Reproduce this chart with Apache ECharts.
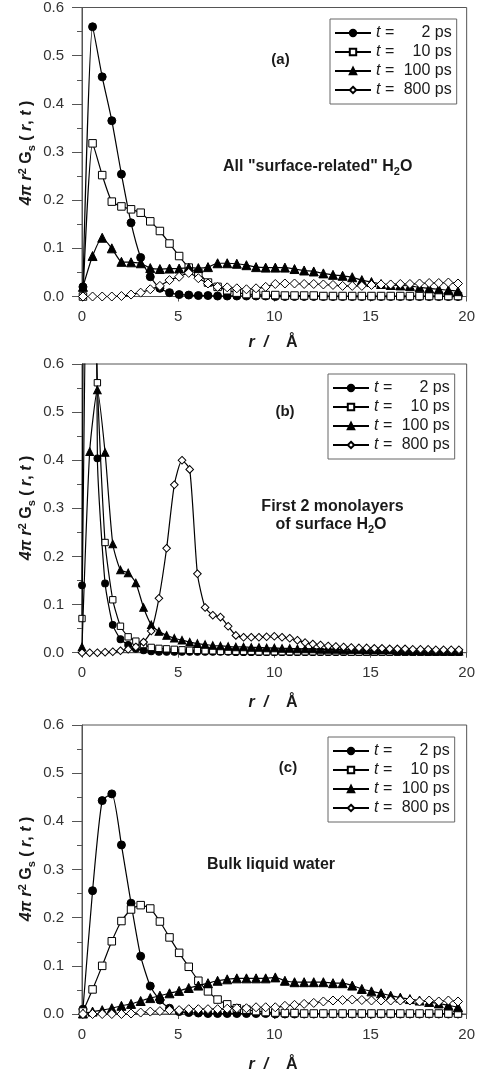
<!DOCTYPE html>
<html><head><meta charset="utf-8">
<script src="https://cdn.jsdelivr.net/npm/echarts@6/dist/echarts.min.js"></script>
<style>html,body{margin:0;padding:0;background:#fff}#c{width:478px;height:1078px}</style>
</head><body><div id="c"></div>
<script>
// r grid (Angstrom) for panels (a) and (c)
const rAC = [0.05,0.55,1.05,1.55,2.05,2.55,3.05,3.55,4.05,4.55,5.05,5.55,6.05,6.55,7.05,7.55,8.05,8.55,9.05,9.55,
  10.05,10.55,11.05,11.55,12.05,12.55,13.05,13.55,14.05,14.55,15.05,15.55,16.05,16.55,17.05,17.55,18.05,18.55,19.05,19.55];
// r grid for panel (b)
const rB = [0,0.4,0.8,1.2,1.6,2.0,2.4,2.8,3.2,3.6,4.0,4.4,4.8,5.2,5.6,6.0,6.4,6.8,7.2,7.6,
  8.0,8.4,8.8,9.2,9.6,10.0,10.4,10.8,11.2,11.6,12.0,12.4,12.8,13.2,13.6,14.0,14.4,14.8,15.2,15.6,
  16.0,16.4,16.8,17.2,17.6,18.0,18.4,18.8,19.2,19.6];

// panel (a): all "surface-related" H2O
const a2   = [0.02,0.56,0.456,0.365,0.254,0.153,0.081,0.041,0.017,0.008,0.004,0.003,0.002,0.002,0.001,0.001,0.001,0.001,0.001,0.001,
  0,0,0,0,0,0,0,0,0,0,0,0,0,0,0,0,0,0,0,0];
const a10  = [0.0,0.318,0.252,0.197,0.187,0.181,0.174,0.156,0.136,0.11,0.084,0.06,0.049,0.029,0.02,0.013,0.008,0.005,0.004,0.003,
  0.003,0.002,0.002,0.002,0.002,0.001,0.001,0.001,0.001,0.001,0.001,0.001,0.001,0.001,0.001,0.001,0.001,0.001,0.001,0.001];
const a100 = [0.02,0.084,0.122,0.10,0.072,0.071,0.069,0.059,0.057,0.058,0.058,0.060,0.059,0.061,0.069,0.069,0.068,0.065,0.061,0.060,
  0.060,0.060,0.057,0.054,0.052,0.048,0.045,0.043,0.040,0.034,0.030,0.026,0.024,0.023,0.022,0.019,0.017,0.015,0.013,0.011];
const a800 = [0,0,0,0,0.001,0.004,0.008,0.015,0.022,0.034,0.041,0.049,0.038,0.027,0.020,0.019,0.017,0.015,0.017,0.020,
  0.026,0.027,0.027,0.026,0.026,0.025,0.024,0.022,0.022,0.022,0.024,0.025,0.025,0.026,0.026,0.027,0.028,0.028,0.029,0.027];

// panel (b): first 2 monolayers of surface H2O
const b2   = [0.14,3.0,0.404,0.144,0.058,0.028,0.016,0.008,0.005,0.003,0.002,0.002,0.002,0.002,0.002,0.002,0.002,0.002,0.002,0.002,
  0.001,0.001,0.001,0.001,0.001,0.001,0.001,0.001,0.001,0.001,0.001,0.001,0.001,0.001,0.001,0.001,0.001,0.001,0.001,0.001,
  0.001,0.001,0.001,0.001,0.001,0.001,0.001,0.001,0.001,0.001];
const b10  = [0.071,1.2,0.561,0.229,0.11,0.055,0.033,0.024,0.017,0.011,0.009,0.008,0.007,0.006,0.005,0.005,0.004,0.004,0.003,0.003,
  0.003,0.003,0.003,0.002,0.002,0.002,0.002,0.002,0.002,0.002,0.002,0.002,0.002,0.002,0.002,0.001,0.001,0.001,0.001,0.001,
  0.001,0.001,0.001,0.001,0.001,0.001,0.001,0.001,0.001,0.001];
const b100 = [0.012,0.418,0.546,0.416,0.226,0.172,0.166,0.145,0.094,0.058,0.044,0.036,0.030,0.026,0.022,0.019,0.017,0.015,0.014,0.013,
  0.012,0.012,0.011,0.011,0.010,0.010,0.009,0.009,0.008,0.008,0.008,0.007,0.007,0.007,0.006,0.006,0.006,0.005,0.005,0.005,
  0.005,0.004,0.004,0.004,0.004,0.003,0.003,0.003,0.003,0.003];
const b800 = [0,0,0,0.001,0.002,0.004,0.007,0.012,0.022,0.045,0.113,0.217,0.349,0.400,0.381,0.164,0.094,0.078,0.074,0.055,
  0.036,0.032,0.032,0.032,0.033,0.034,0.032,0.030,0.026,0.021,0.018,0.016,0.014,0.013,0.012,0.011,0.010,0.010,0.009,0.009,
  0.008,0.008,0.008,0.007,0.007,0.007,0.006,0.006,0.006,0.006];

// panel (c): bulk liquid water
const c2   = [0.01,0.256,0.443,0.457,0.351,0.23,0.12,0.058,0.029,0.012,0.005,0.003,0.002,0.001,0.001,0.001,0.001,0.001,0.001,0.001,
  0,0,0,0,0,0,0,0,0,0,0,0,0,0,0,0,0,0,0,0];
const c10  = [0.005,0.051,0.10,0.151,0.193,0.217,0.226,0.219,0.192,0.159,0.127,0.098,0.069,0.047,0.030,0.020,0.012,0.009,0.006,0.004,
  0.003,0.002,0.002,0.001,0.001,0.001,0.001,0.001,0.001,0.001,0.001,0.001,0.001,0.001,0.001,0.001,0.001,0.001,0.001,0.001];
const c100 = [0.001,0.005,0.008,0.012,0.017,0.021,0.027,0.033,0.038,0.043,0.048,0.054,0.059,0.064,0.069,0.072,0.074,0.074,0.074,0.074,
  0.076,0.069,0.066,0.066,0.066,0.066,0.064,0.064,0.059,0.052,0.047,0.043,0.038,0.034,0.031,0.028,0.025,0.022,0.018,0.014];
const c800 = [0,0,0,0,0,0.001,0.003,0.005,0.006,0.008,0.008,0.010,0.010,0.010,0.010,0.011,0.012,0.012,0.014,0.014,
  0.014,0.017,0.019,0.021,0.023,0.026,0.028,0.029,0.030,0.029,0.028,0.028,0.028,0.028,0.028,0.026,0.028,0.026,0.028,0.026];

const seriesNames = ['2 ps','10 ps','100 ps','800 ps'];
const yTicks = ['0.0','0.1','0.2','0.3','0.4','0.5','0.6'];
const xTicks = ['0','5','10','15','20'];

const FONT = '"Liberation Sans", Arial, Helvetica, sans-serif';
const INK = '#1a1a1a';
const AX = '#555';

const chart = echarts.init(document.getElementById('c'), null, {renderer:'canvas'});

const grids = [
  {left:82, right:11, top:7.5, height:289},
  {left:82, right:11, top:364, height:288.7},
  {left:82, right:11, top:725, height:289}
].map(g => Object.assign(g, {show:true, borderColor:AX, borderWidth:1, backgroundColor:'transparent'}));

const xAxes = [0,1,2].map(i => ({
  type:'value', gridIndex:i, min:0, max:20, interval:5,
  axisLine:{show:true, onZero:false, lineStyle:{color:AX, width:1}},
  axisTick:{show:true, length:5, lineStyle:{color:AX}},
  splitLine:{show:false},
  axisLabel:{color:'#333', fontFamily:FONT, fontSize:15, margin:13,
    formatter:v => xTicks[Math.round(v/5)] }
}));
const yAxes = [0,1,2].map(i => ({
  type:'value', gridIndex:i, min:0, max:0.6, interval:0.1,
  axisLine:{show:true, lineStyle:{color:AX, width:1}},
  axisTick:{show:true, length:10, lineStyle:{color:AX}},
  minorTick:{show:true, splitNumber:2, length:5, lineStyle:{color:AX}},
  splitLine:{show:false}, minorSplitLine:{show:false},
  axisLabel:{color:'#333', fontFamily:FONT, fontSize:15, margin:18,
    formatter:v => yTicks[Math.round(v*10)] }
}));

const styles = [
  {symbol:'circle',  symbolSize:8,  fill:'#000'},
  {symbol:'rect',    symbolSize:7.5,fill:'#fff'},
  {symbol:'triangle',symbolSize:9,  fill:'#000'},
  {symbol:'diamond', symbolSize:9,  fill:'#fff'}
];
const panels = [
  {r:rAC, vals:[a2,a10,a100,a800], scale:1},
  {r:rB,  vals:[b2,b10,b100,b800], scale:0.85},
  {r:rAC, vals:[c2,c10,c100,c800], scale:1}
];
const series = [];
panels.forEach((p, gi) => {
  [3,2,1,0].forEach(si => {
    const st = styles[si];
    series.push({
      type:'line', name:seriesNames[si], xAxisIndex:gi, yAxisIndex:gi,
      data:p.r.map((x,k) => [x, p.vals[si][k]]),
      symbol:st.symbol, symbolSize:st.symbolSize*p.scale, showAllSymbol:true,
      smooth:0.2, clip:true,
      lineStyle:{color:'#000', width:1.2},
      itemStyle:{color:st.fill, borderColor:'#000', borderWidth:1},
      emphasis:{disabled:true}, z:2+si
    });
  });
});

const legendBase = {
  orient:'vertical', itemWidth:36, itemHeight:8, itemGap:3, padding:[6,5,6,4],
  borderColor:'#666', borderWidth:1, selectedMode:false, data:seriesNames,
  textStyle:{fontFamily:FONT, fontSize:16, color:INK, lineHeight:16,
    rich:{ t:{fontStyle:'italic', fontSize:16, fontFamily:FONT, color:INK, lineHeight:16},
           e:{fontSize:16, fontFamily:FONT, color:INK, lineHeight:16},
           n:{fontSize:16, fontFamily:FONT, color:INK, width:53, align:'right', lineHeight:16} }},
  formatter: name => '{t|t}{e| = }{n|' + name + '}'
};
const legends = [
  Object.assign({}, legendBase, {left:330, top:19}),
  Object.assign({}, legendBase, {left:328, top:374}),
  Object.assign({}, legendBase, {left:328, top:737})
];

function txt(x, y, text, rich, size, rot, align) {
  return {type:'text', x:x, y:y, rotation:rot||0, silent:true,
    style:{text:text, rich:rich, fill:INK, fontFamily:FONT, fontSize:size, fontWeight:'bold',
      align:align||'center', verticalAlign:'middle', textAlign:align||'center', textVerticalAlign:'middle'}};
}
const boldRich = {
  m:{fontFamily:FONT, fontSize:16, fontWeight:'bold', color:INK, lineHeight:20},
  s:{fontFamily:FONT, fontSize:11, fontWeight:'bold', color:INK, lineHeight:11, verticalAlign:'bottom'}
};
const yRich = {
  i:{fontFamily:FONT, fontSize:16, fontWeight:'bold', fontStyle:'italic', color:INK, lineHeight:20},
  u:{fontFamily:FONT, fontSize:16, fontWeight:'bold', color:INK, lineHeight:20},
  sup:{fontFamily:FONT, fontSize:11, fontWeight:'bold', color:INK, lineHeight:11, verticalAlign:'top'},
  sub:{fontFamily:FONT, fontSize:11, fontWeight:'bold', color:INK, lineHeight:11, verticalAlign:'bottom'}
};
const yTitle = '{i|4π r}{sup|2}{u| G}{sub|s}{u| ( }{i|r}{u|, }{i|t}{u| )}';
const xRich = {
  i:{fontFamily:FONT, fontSize:16, fontWeight:'bold', fontStyle:'italic', color:INK},
  b:{fontFamily:FONT, fontSize:16, fontWeight:'bold', color:INK}
};
const xTitle = '{i|r}{b|  }{i|/}{b|    Å}';

const graphics = [
  txt(280.5, 60, '(a)', null, 15),
  txt(223, 167, '{m|All "surface-related" H}{s|2}{m|O}', boldRich, 16, 0, 'left'),
  txt(285, 412, '(b)', null, 15),
  txt(332.5, 506.5, '{m|First 2 monolayers}', boldRich, 16),
  txt(331, 525, '{m|of surface H}{s|2}{m|O}', boldRich, 16),
  txt(288, 768, '(c)', null, 15),
  txt(271, 865, '{m|Bulk liquid water}', boldRich, 16),
  txt(27, 153, yTitle, yRich, 16, Math.PI/2),
  txt(27, 508, yTitle, yRich, 16, Math.PI/2),
  txt(27, 869, yTitle, yRich, 16, Math.PI/2),
  txt(273, 343, xTitle, xRich, 16),
  txt(273, 703, xTitle, xRich, 16),
  txt(273, 1065, xTitle, xRich, 16)
];

chart.setOption({
  animation:false, backgroundColor:'#fff',
  grid:grids, xAxis:xAxes, yAxis:yAxes, series:series,
  legend:legends, graphic:graphics
});
</script></body></html>
